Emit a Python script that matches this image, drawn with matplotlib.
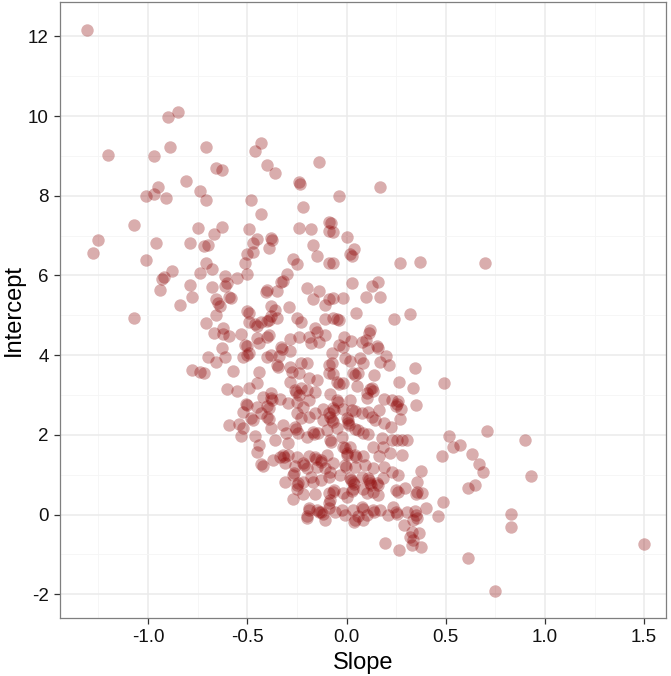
import matplotlib.pyplot as plt
from matplotlib.ticker import MultipleLocator

plt.rcParams['font.family'] = ['Liberation Sans', 'DejaVu Sans']
plt.rcParams['axes.unicode_minus'] = False

# (slope, intercept) pairs, grouped by area of the plot
upper = [
    (-1.31, 12.15), (-1.20, 9.02), (-0.90, 9.97), (-0.85, 10.1), (-0.89, 9.22), (-0.97, 9.0),
    (-0.71, 9.22), (-0.66, 8.69), (-0.63, 8.64), (-0.46, 9.12), (-0.43, 9.32), (-0.40, 8.77),
    (-0.36, 8.57), (-0.24, 8.34), (-0.235, 8.30), (-0.14, 8.85), (-0.04, 7.99), (0.17, 8.22),
    (-0.81, 8.37), (-0.74, 8.12), (-0.95, 8.22), (-0.97, 8.04), (-1.01, 7.99), (-0.91, 7.94),
    (-0.71, 7.89), (-0.48, 7.89),
    (-1.07, 7.26), (-1.25, 6.88), (-1.28, 6.56), (-1.01, 6.39), (-0.96, 6.81), (-0.79, 6.81),
    (-0.75, 7.19), (-0.88, 6.11), (-0.93, 5.91), (-0.92, 5.95), (-0.94, 5.63), (-0.79, 5.76),
    (-0.78, 5.46), (-0.84, 5.26), (-1.07, 4.93), (-0.74, 6.06), (-0.78, 3.63), (-0.74, 3.58),
]

mid_left = [
    (-0.43, 7.54), (-0.22, 7.72), (-0.63, 7.21), (-0.67, 7.04), (-0.72, 6.74), (-0.70, 6.76),
    (-0.49, 7.16), (-0.45, 6.91), (-0.47, 6.81), (-0.38, 6.94), (-0.376, 6.89), (-0.39, 6.69),
    (-0.47, 6.59), (-0.50, 6.54), (-0.51, 6.31), (-0.50, 6.04), (-0.71, 6.31), (-0.68, 6.16),
    (-0.24, 7.19), (-0.18, 7.16), (-0.09, 7.34), (-0.09, 7.11), (-0.17, 6.76), (-0.15, 6.49),
    (-0.09, 6.31), (-0.27, 6.41), (-0.25, 6.29), (-0.30, 6.04), (-0.32, 5.86), (-0.33, 5.84),
    (-0.20, 5.69), (-0.14, 5.61), (-0.17, 5.41), (-0.09, 5.41), (-0.11, 5.26), (-0.11, 4.91),
    (-0.16, 4.68), (-0.68, 5.71), (-0.61, 5.99), (-0.60, 5.81), (-0.61, 5.74), (-0.55, 5.94),
    (-0.66, 5.41), (-0.65, 5.31), (-0.64, 5.23), (-0.58, 5.43), (-0.59, 5.46), (-0.66, 5.01),
    (-0.71, 4.81), (-0.62, 4.68), (-0.50, 5.11), (-0.49, 5.06), (-0.49, 4.83), (-0.46, 4.78),
    (-0.45, 4.73), (-0.40, 4.86), (-0.38, 5.23), (-0.36, 5.13), (-0.29, 5.21), (-0.38, 4.98),
    (-0.39, 4.88), (-0.35, 4.93), (-0.25, 4.93), (-0.23, 4.83), (-0.40, 5.64), (-0.405, 5.58),
    (-0.35, 5.61), (-0.43, 4.83),
]

mid_right = [
    (-0.08, 7.31), (-0.07, 7.09), (0.00, 6.96), (0.04, 6.66), (0.02, 6.54), (0.03, 6.49),
    (-0.07, 6.31), (0.27, 6.31), (0.37, 6.34), (0.03, 5.81), (0.13, 5.74), (0.16, 5.84),
    (-0.07, 5.43), (-0.02, 5.43), (0.10, 5.46), (0.17, 5.46), (0.05, 5.06), (-0.07, 4.93),
    (-0.05, 4.91), (-0.04, 4.88), (0.24, 4.91), (0.32, 5.03), (0.12, 4.63),
]

core_left = [
    (-0.67, 4.56), (-0.62, 4.53), (-0.59, 4.48), (-0.53, 4.53), (-0.45, 4.43), (-0.40, 4.46),
    (-0.39, 4.51), (-0.44, 4.30), (-0.51, 4.25), (-0.50, 4.23), (-0.50, 4.00), (-0.49, 4.05),
    (-0.52, 3.95), (-0.63, 4.18), (-0.70, 3.95), (-0.66, 3.83), (-0.61, 3.95), (-0.72, 3.55),
    (-0.57, 3.60), (-0.44, 3.58), (-0.40, 3.95), (-0.38, 4.00), (-0.33, 4.20), (-0.325, 4.15),
    (-0.285, 4.41), (-0.24, 4.46), (-0.19, 4.46), (-0.15, 4.58), (-0.11, 4.51), (-0.18, 4.30),
    (-0.14, 4.33), (-0.34, 3.98), (-0.285, 4.10), (-0.23, 3.80), (-0.20, 3.80), (-0.35, 3.75),
    (-0.345, 3.70), (-0.285, 3.70), (-0.275, 3.58), (-0.24, 3.55), (-0.19, 3.43), (-0.15, 3.38),
    (-0.09, 3.75), (-0.09, 3.55), (-0.285, 3.33), (-0.60, 3.15), (-0.55, 3.10), (-0.49, 3.18),
    (-0.45, 3.30), (-0.38, 3.05), (-0.42, 2.95), (-0.38, 2.92), (-0.375, 2.87), (-0.335, 2.90),
    (-0.295, 2.80), (-0.50, 2.75), (-0.505, 2.77), (-0.52, 2.57), (-0.45, 2.70), (-0.43, 2.55),
    (-0.40, 2.72), (-0.39, 2.67), (-0.40, 2.45), (-0.39, 2.40), (-0.48, 2.42), (-0.47, 2.37),
    (-0.26, 3.13), (-0.255, 3.08), (-0.24, 3.00), (-0.23, 3.18), (-0.20, 3.13), (-0.16, 3.08),
    (-0.19, 2.87), (-0.25, 2.82), (-0.22, 2.70), (-0.25, 2.55), (-0.23, 2.42), (-0.19, 2.45),
    (-0.16, 2.55), (-0.12, 2.65), (-0.09, 2.55), (-0.12, 2.37), (-0.59, 2.25), (-0.54, 2.27),
    (-0.52, 2.17), (-0.53, 1.97), (-0.46, 1.97), (-0.38, 2.17), (-0.32, 2.25), (-0.305, 2.05),
    (-0.26, 2.20), (-0.255, 2.15), (-0.245, 2.05), (-0.20, 1.95), (-0.17, 2.07), (-0.165, 2.02),
    (-0.145, 2.05), (-0.10, 2.12), (-0.36, 1.87), (-0.295, 1.80), (-0.44, 1.75),
]

core_right = [
    (-0.013, 4.46), (0.023, 4.35), (0.078, 4.33), (0.113, 4.56), (0.098, 4.38), (0.154, 4.23),
    (0.159, 4.18), (0.108, 4.18), (-0.038, 4.25), (-0.018, 4.20), (-0.073, 4.05), (-0.008, 3.93),
    (0.018, 3.85), (0.068, 3.93), (0.083, 3.80), (0.169, 3.83), (0.199, 3.98), (0.214, 3.75),
    (0.345, 3.68), (-0.073, 3.80), (-0.068, 3.53), (0.033, 3.55), (0.043, 3.50), (0.058, 3.55),
    (0.139, 3.50), (-0.048, 3.33), (-0.038, 3.28), (-0.018, 3.30), (0.053, 3.23), (0.118, 3.15),
    (0.128, 3.18), (0.134, 3.10), (0.103, 3.05), (0.265, 3.33), (0.335, 3.18), (0.491, 3.30),
    (-0.083, 3.03), (-0.048, 2.87), (-0.043, 2.82), (0.018, 2.87), (0.103, 2.92), (0.189, 2.90),
    (0.229, 2.87), (0.260, 2.85), (0.275, 2.65), (0.249, 2.72), (0.255, 2.77), (0.350, 2.75),
    (-0.068, 2.67), (-0.063, 2.62), (-0.018, 2.65), (0.028, 2.62), (0.043, 2.60), (0.078, 2.55),
    (0.108, 2.57), (0.164, 2.62), (0.128, 2.45), (0.144, 2.37), (-0.083, 2.45), (-0.073, 2.37),
    (-0.068, 2.32), (0.003, 2.42), (0.008, 2.37), (0.008, 2.30), (0.013, 2.25), (0.189, 2.30),
    (0.270, 2.40), (0.224, 2.20), (-0.048, 2.17), (0.043, 2.15), (0.058, 2.12), (0.083, 2.05),
    (0.108, 2.02), (-0.023, 1.95), (0.179, 1.92), (0.229, 1.87), (0.255, 1.87), (0.280, 1.87),
    (0.305, 1.87), (0.517, 1.97), (-0.083, 1.87), (-0.078, 1.82), (-0.018, 1.70), (-0.008, 1.67),
    (0.018, 1.70), (0.134, 1.70), (0.184, 1.70), (0.537, 1.70),
]

low_left = [
    (-0.45, 1.57), (-0.43, 1.27), (-0.42, 1.22), (-0.37, 1.37), (-0.335, 1.45), (-0.32, 1.50),
    (-0.315, 1.45), (-0.295, 1.50), (-0.25, 1.45), (-0.31, 1.29), (-0.26, 1.22), (-0.22, 1.29),
    (-0.215, 1.24), (-0.19, 1.47), (-0.16, 1.45), (-0.155, 1.40), (-0.13, 1.37), (-0.13, 1.32),
    (-0.10, 1.50), (-0.15, 1.19), (-0.11, 1.17), (-0.20, 1.17), (-0.27, 0.99), (-0.265, 1.04),
    (-0.31, 0.82), (-0.245, 0.79), (-0.22, 0.82), (-0.18, 0.94), (-0.17, 0.82), (-0.13, 0.87),
    (-0.09, 0.94), (-0.25, 0.64), (-0.25, 0.74), (-0.22, 0.52), (-0.16, 0.52), (-0.09, 0.54),
    (-0.27, 0.39), (-0.19, 0.17), (-0.19, 0.12), (-0.15, 0.12), (-0.14, 0.07), (-0.13, 0.07),
    (-0.12, 0.02), (-0.09, 0.17), (-0.09, 0.29), (-0.20, -0.09), (-0.20, -0.04), (-0.11, -0.14),
]

low_right = [
    (0.00, 1.55), (0.003, 1.50), (0.043, 1.50), (0.048, 1.45), (0.083, 1.47), (0.164, 1.47),
    (0.219, 1.55), (0.280, 1.50), (0.481, 1.47), (-0.068, 1.29), (-0.008, 1.24), (-0.003, 1.19),
    (0.043, 1.19), (0.093, 1.24), (0.134, 1.17), (0.189, 1.19), (0.229, 1.07), (0.260, 0.99),
    (0.375, 1.09), (-0.083, 1.07), (-0.033, 0.99), (0.018, 0.92), (0.023, 0.87), (0.033, 0.82),
    (0.038, 0.77), (0.078, 0.94), (0.108, 0.92), (0.113, 0.87), (0.118, 0.79), (0.123, 0.74),
    (0.154, 0.79), (0.159, 0.74), (0.184, 0.92), (0.355, 0.82), (-0.068, 0.57), (-0.063, 0.62),
    (-0.018, 0.54), (0.003, 0.44), (0.028, 0.59), (0.033, 0.64), (0.083, 0.64), (0.103, 0.54),
    (0.134, 0.57), (0.159, 0.49), (0.249, 0.62), (0.260, 0.57), (0.295, 0.67), (0.350, 0.52),
    (0.355, 0.57), (0.381, 0.54), (0.486, 0.32), (-0.083, 0.37), (-0.058, 0.07), (-0.023, 0.12),
    (-0.008, -0.01), (0.033, 0.12), (0.078, 0.19), (0.083, 0.14), (0.103, -0.01), (0.134, 0.12),
    (0.139, 0.07), (0.169, 0.12), (0.058, -0.04), (0.038, -0.19), (0.043, -0.14), (0.083, -0.14),
    (0.209, -0.01), (0.234, 0.19), (0.249, 0.07), (0.255, 0.02), (0.305, 0.07), (0.350, -0.01),
    (0.345, 0.09), (0.401, 0.17), (0.461, -0.04), (0.290, -0.26), (0.335, -0.14), (0.355, -0.09),
    (0.330, -0.44), (0.365, -0.46), (0.320, -0.56), (0.335, -0.64), (0.330, -0.76), (0.375, -0.81),
    (0.194, -0.71), (0.265, -0.89),
]

far_right = [
    (0.70, 6.31), (0.71, 2.09), (0.90, 1.87), (0.63, 1.52), (0.67, 1.26), (0.69, 1.07),
    (0.93, 0.97), (0.61, 0.67), (0.65, 0.74), (0.57, 1.75), (0.83, 0.02), (0.83, -0.31),
    (1.50, -0.74), (0.61, -1.09), (0.75, -1.92),
]

points = upper + mid_left + mid_right + core_left + core_right + low_left + low_right + far_right
slope = [p[0] for p in points]
intercept = [p[1] for p in points]

fig = plt.figure(figsize=(6.71, 6.76), dpi=100)
ax = fig.add_axes([0.0894, 0.0858, 0.9031, 0.9112])

ax.scatter(slope, intercept, s=80, color='#8B0000', alpha=0.32, linewidths=0, zorder=3)

ax.set_xlim(-1.444, 1.61)
ax.set_ylim(-2.594, 12.86)
ax.xaxis.set_major_locator(MultipleLocator(0.5))
ax.xaxis.set_minor_locator(MultipleLocator(0.25))
ax.yaxis.set_major_locator(MultipleLocator(2))
ax.yaxis.set_minor_locator(MultipleLocator(1))
ax.set_xticks([-1.0, -0.5, 0.0, 0.5, 1.0, 1.5])
ax.set_xticklabels(['-1.0', '-0.5', '0.0', '0.5', '1.0', '1.5'])

ax.grid(which='major', color='#EBEBEB', linewidth=1.1, zorder=0)
ax.grid(which='minor', color='#F5F5F5', linewidth=0.6, zorder=0)
ax.set_axisbelow(True)
ax.tick_params(which='major', length=4, width=0.9, color='#333333', labelsize=13.5,
               labelcolor='#111111', pad=4)
ax.tick_params(which='minor', length=0)
for s in ax.spines.values():
    s.set_color('#7F7F7F')
    s.set_linewidth(0.9)

ax.set_xlabel('Slope', fontsize=17, labelpad=4)
ax.set_ylabel('Intercept', fontsize=17, labelpad=2)

fig.savefig('out.png', dpi=100)
